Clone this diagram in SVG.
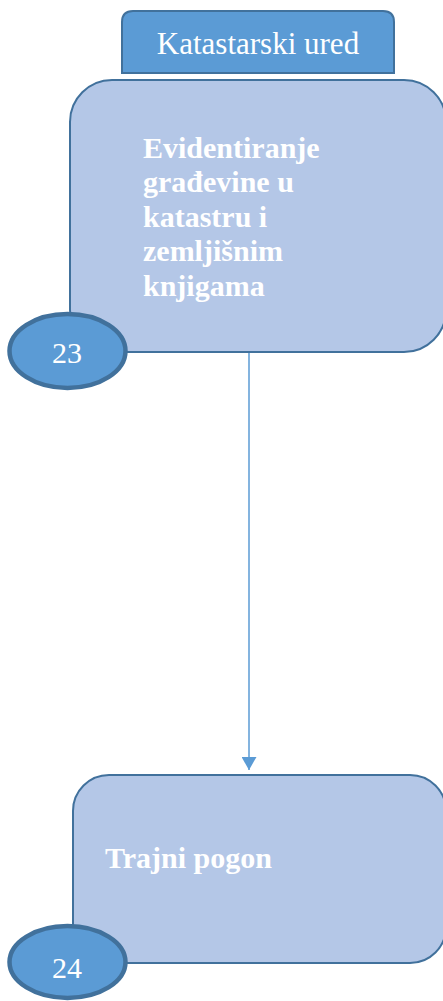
<svg xmlns="http://www.w3.org/2000/svg" width="443" height="1001" viewBox="0 0 443 1001">
<style>
.hdr{fill:#5B9BD5;stroke:#41719C;stroke-width:2}
.box{fill:#B4C7E7;stroke:#41719C;stroke-width:2}
.num{fill:#5B9BD5;stroke:#41719C;stroke-width:4.5}
.t{font-family:"Liberation Serif","DejaVu Serif",serif;fill:#FFFFFF}
.b{font-weight:bold;font-size:30px}
.n{font-size:30px;text-anchor:middle}
.conn{stroke:#5B9BD5;stroke-width:1.5;fill:none}
</style>
<defs>
<marker id="arr" markerWidth="15" markerHeight="15" refX="13" refY="7.5" orient="auto" markerUnits="userSpaceOnUse" viewBox="0 0 13 15">
<path d="M0,0 L13,7.5 L0,15 Z" fill="#5B9BD5"/>
</marker>
</defs>
<g id="header">
<path class="hdr" d="M122,73 L122,22 Q122,11 133,11 L383,11 Q394,11 394,22 L394,73 Z"/>
<text class="t" x="258" y="54" font-size="31" text-anchor="middle">Katastarski ured</text>
</g>
<g id="connectors">
<line class="conn" x1="249" y1="350" x2="249" y2="770" marker-end="url(#arr)"/>
</g>
<g id="node23">
<rect class="box" x="70" y="80" width="376" height="272" rx="42" ry="42"/>
<text class="t b" x="143" y="158">Evidentiranje</text>
<text class="t b" x="143" y="192">građevine u</text>
<text class="t b" x="143" y="227">katastru i</text>
<text class="t b" x="143" y="261">zemljišnim</text>
<text class="t b" x="143" y="296">knjigama</text>
<ellipse class="num" cx="67.5" cy="351" rx="58" ry="37"/>
<text class="t n" x="67" y="363">23</text>
</g>
<g id="node24">
<rect class="box" x="73" y="775" width="373" height="188" rx="36" ry="36"/>
<text class="t b" x="105" y="868">Trajni pogon</text>
<ellipse class="num" cx="67.5" cy="962" rx="58" ry="36"/>
<text class="t n" x="67" y="978">24</text>
</g>
</svg>
